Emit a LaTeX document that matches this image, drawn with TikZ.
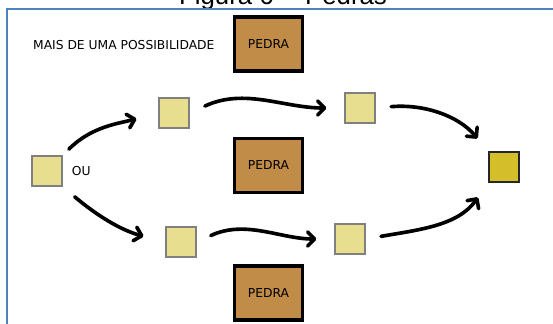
\documentclass[tikz,border=0pt]{standalone}
\usepackage{fontspec}
\setmainfont{DejaVu Sans}
\newfontfamily\titlefont{Liberation Sans}
\usetikzlibrary{arrows.meta,positioning}
\definecolor{framecol}{RGB}{79,129,189}
\definecolor{pedracol}{RGB}{192,140,72}
\definecolor{stepcol}{RGB}{232,222,144}
\definecolor{goalcol}{RGB}{212,190,42}
\tikzset{arrows={-Straight Barb[length=6pt,width=12pt,round]}}
\tikzset{
  pedra/.style={draw=black, line width=2.6pt, fill=pedracol, inner sep=0pt,
    minimum width=2.04cm, minimum height=1.62cm},
  passo/.style={draw=gray, line width=1.7pt, fill=stepcol, inner sep=0pt,
    minimum size=0.9cm},
  meta/.style={passo, draw=black!85, fill=goalcol},
  hand/.style={draw, line width=3.1pt, line cap=round}
}
\newcommand{\rotulo}{\fontsize{10.5}{12}\selectfont}

\begin{document}
\begin{tikzpicture}[x=0.03cm, y=0.03cm, font=\rotulo]
    \useasboundingbox (0,0) rectangle (553,-323);
    \clip (0,0) rectangle (553,-323);
    \node[font=\titlefont\fontsize{22}{26}\selectfont, anchor=base] (title) at (283,-4) {Figura 6 -- Pedras};
    \draw[framecol, line width=1.8pt, arrows=-] (7,-330) |- (560,-9);

    \node[anchor=west] (mais) at (29,-45) {MAIS DE UMA POSSIBILIDADE};

    \node[pedra] (P1) at (268.5,-44) {PEDRA};
    \node[pedra] (P2) at (268.5,-165.5) {PEDRA};
    \node[pedra] (P3) at (268.5,-293) {PEDRA};

    \node[passo] (S0) at (47,-171) {};
    \node[anchor=west] (ou) [right = 4pt of S0] {OU};
    \node[passo] (A1) at (174,-113) {};
    \node[passo] (A2) at (360,-108) {};
    \node[passo] (B1) at (181,-242) {};
    \node[passo] (B2) at (350,-239) {};
    \node[meta] (F) at (504,-167) {};

    \path (S0.north east) edge[hand, out=45, in=195, shorten <=7pt, shorten >=19pt] (A1.west)
          (S0.south east) edge[hand, out=-40, in=165, shorten <=13pt, shorten >=19pt] (B1.west)
          (A1.east) edge[hand, out=25, in=180, shorten <=14pt, shorten >=15pt] (A2.west)
          (B1.east) edge[hand, out=25, in=180, shorten <=13pt, shorten >=15pt] (B2.west)
          (A2.east) edge[hand, out=5, in=130, shorten <=13pt, shorten >=14pt] (F.north west)
          (B2.east) edge[hand, out=10, in=-125, shorten <=13pt, shorten >=15pt] (F.south west);
  \end{tikzpicture}
\end{document}
